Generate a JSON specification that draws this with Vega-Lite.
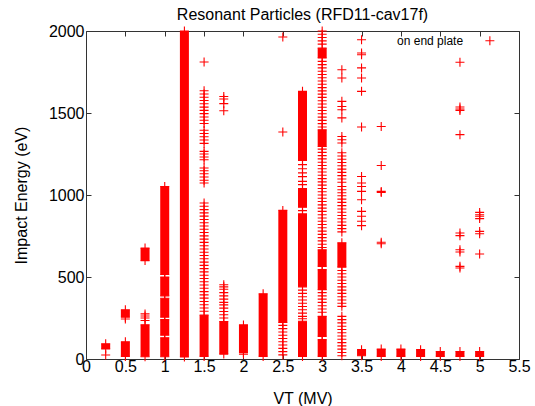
{
  "$schema": "https://vega.github.io/schema/vega-lite/v6.json",
  "width": 433,
  "height": 328,
  "autosize": "none",
  "padding": {"left": 86, "top": 31, "right": 16, "bottom": 47},
  "background": "white",
  "title": {"text": "Resonant Particles (RFD11-cav17f)", "font": "Liberation Sans", "fontSize": 16, "fontWeight": "normal", "color": "#000", "anchor": "middle", "offset": 0},
  "config": {
    "view": {"stroke": "#333", "strokeWidth": 1},
    "axis": {"domain": false, "grid": false, "ticks": true, "tickSize": -5, "tickColor": "#333", "labelFont": "Liberation Sans", "labelFontSize": 16, "labelColor": "#000", "titleFont": "Liberation Sans", "titleFontSize": 16, "titleFontWeight": "normal", "titleColor": "#000"}
  },
  "datasets": {
    "segments": [
      {"vt": 0.25, "lo": 61, "hi": 93},
      {"vt": 0.5, "lo": 16, "hi": 105},
      {"vt": 0.5, "lo": 255, "hi": 300},
      {"vt": 0.75, "lo": 14, "hi": 209},
      {"vt": 0.75, "lo": 600, "hi": 677},
      {"vt": 1.0, "lo": 14, "hi": 130},
      {"vt": 1.0, "lo": 145, "hi": 240},
      {"vt": 1.0, "lo": 255, "hi": 370},
      {"vt": 1.0, "lo": 385, "hi": 500},
      {"vt": 1.0, "lo": 515, "hi": 1052},
      {"vt": 1.25, "lo": 12, "hi": 2000},
      {"vt": 1.5, "lo": 16, "hi": 268},
      {"vt": 1.75, "lo": 30, "hi": 229},
      {"vt": 2.0, "lo": 40, "hi": 208},
      {"vt": 2.25, "lo": 16, "hi": 398},
      {"vt": 2.5, "lo": 223, "hi": 906},
      {"vt": 2.75, "lo": 16, "hi": 230},
      {"vt": 2.75, "lo": 440, "hi": 885},
      {"vt": 2.75, "lo": 925, "hi": 1040},
      {"vt": 2.75, "lo": 1210, "hi": 1632},
      {"vt": 3.0, "lo": 16, "hi": 118},
      {"vt": 3.0, "lo": 138, "hi": 260},
      {"vt": 3.0, "lo": 423, "hi": 545},
      {"vt": 3.0, "lo": 565, "hi": 666},
      {"vt": 3.0, "lo": 1296, "hi": 1398},
      {"vt": 3.0, "lo": 1835, "hi": 1896},
      {"vt": 3.25, "lo": 560, "hi": 709},
      {"vt": 3.5, "lo": 20, "hi": 57},
      {"vt": 3.75, "lo": 16, "hi": 61},
      {"vt": 4.0, "lo": 16, "hi": 61},
      {"vt": 4.25, "lo": 16, "hi": 57},
      {"vt": 4.5, "lo": 16, "hi": 46},
      {"vt": 4.75, "lo": 16, "hi": 46},
      {"vt": 5.0, "lo": 16, "hi": 46}
    ],
    "points": [
      {"vt": 0.25, "e": 24},
      {"vt": 0.5, "e": 244},
      {"vt": 0.75, "e": 235}, {"vt": 0.75, "e": 250}, {"vt": 0.75, "e": 262}, {"vt": 0.75, "e": 275},
      {"vt": 1.5, "e": 1811},
      {"vt": 1.5, "e": 1636}, {"vt": 1.5, "e": 1616}, {"vt": 1.5, "e": 1596}, {"vt": 1.5, "e": 1576}, {"vt": 1.5, "e": 1556}, {"vt": 1.5, "e": 1536}, {"vt": 1.5, "e": 1516}, {"vt": 1.5, "e": 1496}, {"vt": 1.5, "e": 1476}, {"vt": 1.5, "e": 1456}, {"vt": 1.5, "e": 1436},
      {"vt": 1.5, "e": 1395}, {"vt": 1.5, "e": 1375}, {"vt": 1.5, "e": 1355}, {"vt": 1.5, "e": 1335}, {"vt": 1.5, "e": 1315},
      {"vt": 1.5, "e": 1266}, {"vt": 1.5, "e": 1250}, {"vt": 1.5, "e": 1232}, {"vt": 1.5, "e": 1215},
      {"vt": 1.5, "e": 1165}, {"vt": 1.5, "e": 1148}, {"vt": 1.5, "e": 1130}, {"vt": 1.5, "e": 1110}, {"vt": 1.5, "e": 1090}, {"vt": 1.5, "e": 1073},
      {"vt": 1.5, "e": 951}, {"vt": 1.5, "e": 931}, {"vt": 1.5, "e": 911}, {"vt": 1.5, "e": 891}, {"vt": 1.5, "e": 871}, {"vt": 1.5, "e": 851}, {"vt": 1.5, "e": 831}, {"vt": 1.5, "e": 811}, {"vt": 1.5, "e": 791}, {"vt": 1.5, "e": 771}, {"vt": 1.5, "e": 751}, {"vt": 1.5, "e": 731}, {"vt": 1.5, "e": 711}, {"vt": 1.5, "e": 691}, {"vt": 1.5, "e": 671}, {"vt": 1.5, "e": 651}, {"vt": 1.5, "e": 631}, {"vt": 1.5, "e": 611}, {"vt": 1.5, "e": 591}, {"vt": 1.5, "e": 571}, {"vt": 1.5, "e": 551}, {"vt": 1.5, "e": 531}, {"vt": 1.5, "e": 511}, {"vt": 1.5, "e": 491}, {"vt": 1.5, "e": 471}, {"vt": 1.5, "e": 451}, {"vt": 1.5, "e": 431}, {"vt": 1.5, "e": 411}, {"vt": 1.5, "e": 391}, {"vt": 1.5, "e": 371}, {"vt": 1.5, "e": 351}, {"vt": 1.5, "e": 331}, {"vt": 1.5, "e": 311}, {"vt": 1.5, "e": 291},
      {"vt": 1.75, "e": 1601}, {"vt": 1.75, "e": 1585}, {"vt": 1.75, "e": 1557}, {"vt": 1.75, "e": 1514},
      {"vt": 1.75, "e": 453}, {"vt": 1.75, "e": 440}, {"vt": 1.75, "e": 425}, {"vt": 1.75, "e": 405}, {"vt": 1.75, "e": 385}, {"vt": 1.75, "e": 365}, {"vt": 1.75, "e": 345}, {"vt": 1.75, "e": 330}, {"vt": 1.75, "e": 310}, {"vt": 1.75, "e": 290}, {"vt": 1.75, "e": 270}, {"vt": 1.75, "e": 250},
      {"vt": 2.0, "e": 30},
      {"vt": 2.5, "e": 1963}, {"vt": 2.5, "e": 1384},
      {"vt": 2.5, "e": 205}, {"vt": 2.5, "e": 185}, {"vt": 2.5, "e": 165}, {"vt": 2.5, "e": 145}, {"vt": 2.5, "e": 125}, {"vt": 2.5, "e": 105}, {"vt": 2.5, "e": 85}, {"vt": 2.5, "e": 65}, {"vt": 2.5, "e": 45}, {"vt": 2.5, "e": 25},
      {"vt": 2.75, "e": 1185}, {"vt": 2.75, "e": 1160}, {"vt": 2.75, "e": 1135}, {"vt": 2.75, "e": 1112}, {"vt": 2.75, "e": 1083}, {"vt": 2.75, "e": 1063}, {"vt": 2.75, "e": 905},
      {"vt": 2.75, "e": 420}, {"vt": 2.75, "e": 400}, {"vt": 2.75, "e": 380}, {"vt": 2.75, "e": 360}, {"vt": 2.75, "e": 340}, {"vt": 2.75, "e": 320}, {"vt": 2.75, "e": 300}, {"vt": 2.75, "e": 280}, {"vt": 2.75, "e": 260}, {"vt": 2.75, "e": 245},
      {"vt": 3.0, "e": 2000}, {"vt": 3.0, "e": 1980}, {"vt": 3.0, "e": 1960}, {"vt": 3.0, "e": 1940}, {"vt": 3.0, "e": 1920},
      {"vt": 3.0, "e": 1815}, {"vt": 3.0, "e": 1795}, {"vt": 3.0, "e": 1775}, {"vt": 3.0, "e": 1755}, {"vt": 3.0, "e": 1735}, {"vt": 3.0, "e": 1715}, {"vt": 3.0, "e": 1695}, {"vt": 3.0, "e": 1675}, {"vt": 3.0, "e": 1655}, {"vt": 3.0, "e": 1635}, {"vt": 3.0, "e": 1615}, {"vt": 3.0, "e": 1595}, {"vt": 3.0, "e": 1575}, {"vt": 3.0, "e": 1555}, {"vt": 3.0, "e": 1535}, {"vt": 3.0, "e": 1515}, {"vt": 3.0, "e": 1495}, {"vt": 3.0, "e": 1475}, {"vt": 3.0, "e": 1455}, {"vt": 3.0, "e": 1435}, {"vt": 3.0, "e": 1415},
      {"vt": 3.0, "e": 1280}, {"vt": 3.0, "e": 1260}, {"vt": 3.0, "e": 1240}, {"vt": 3.0, "e": 1220}, {"vt": 3.0, "e": 1200}, {"vt": 3.0, "e": 1180}, {"vt": 3.0, "e": 1160}, {"vt": 3.0, "e": 1140}, {"vt": 3.0, "e": 1120}, {"vt": 3.0, "e": 1100}, {"vt": 3.0, "e": 1080}, {"vt": 3.0, "e": 1060}, {"vt": 3.0, "e": 1040}, {"vt": 3.0, "e": 1020}, {"vt": 3.0, "e": 1000}, {"vt": 3.0, "e": 980}, {"vt": 3.0, "e": 960}, {"vt": 3.0, "e": 940}, {"vt": 3.0, "e": 920}, {"vt": 3.0, "e": 900}, {"vt": 3.0, "e": 880}, {"vt": 3.0, "e": 860}, {"vt": 3.0, "e": 840}, {"vt": 3.0, "e": 820}, {"vt": 3.0, "e": 800}, {"vt": 3.0, "e": 780}, {"vt": 3.0, "e": 760}, {"vt": 3.0, "e": 740}, {"vt": 3.0, "e": 720}, {"vt": 3.0, "e": 700}, {"vt": 3.0, "e": 680},
      {"vt": 3.0, "e": 405}, {"vt": 3.0, "e": 385}, {"vt": 3.0, "e": 365}, {"vt": 3.0, "e": 345}, {"vt": 3.0, "e": 325}, {"vt": 3.0, "e": 305}, {"vt": 3.0, "e": 285},
      {"vt": 3.25, "e": 1764}, {"vt": 3.25, "e": 1713}, {"vt": 3.25, "e": 1571}, {"vt": 3.25, "e": 1540}, {"vt": 3.25, "e": 1520}, {"vt": 3.25, "e": 1470}, {"vt": 3.25, "e": 1357}, {"vt": 3.25, "e": 1337}, {"vt": 3.25, "e": 1317},
      {"vt": 3.25, "e": 1258}, {"vt": 3.25, "e": 1238}, {"vt": 3.25, "e": 1218}, {"vt": 3.25, "e": 1198}, {"vt": 3.25, "e": 1178}, {"vt": 3.25, "e": 1158}, {"vt": 3.25, "e": 1138}, {"vt": 3.25, "e": 1118}, {"vt": 3.25, "e": 1098}, {"vt": 3.25, "e": 1078}, {"vt": 3.25, "e": 1052}, {"vt": 3.25, "e": 1032}, {"vt": 3.25, "e": 1014},
      {"vt": 3.25, "e": 995}, {"vt": 3.25, "e": 975}, {"vt": 3.25, "e": 955}, {"vt": 3.25, "e": 935}, {"vt": 3.25, "e": 915}, {"vt": 3.25, "e": 895}, {"vt": 3.25, "e": 875}, {"vt": 3.25, "e": 855}, {"vt": 3.25, "e": 835}, {"vt": 3.25, "e": 815}, {"vt": 3.25, "e": 795}, {"vt": 3.25, "e": 775},
      {"vt": 3.25, "e": 540}, {"vt": 3.25, "e": 520}, {"vt": 3.25, "e": 500}, {"vt": 3.25, "e": 480}, {"vt": 3.25, "e": 460}, {"vt": 3.25, "e": 440}, {"vt": 3.25, "e": 420}, {"vt": 3.25, "e": 400}, {"vt": 3.25, "e": 380}, {"vt": 3.25, "e": 360}, {"vt": 3.25, "e": 340}, {"vt": 3.25, "e": 321},
      {"vt": 3.25, "e": 260}, {"vt": 3.25, "e": 240}, {"vt": 3.25, "e": 220}, {"vt": 3.25, "e": 200}, {"vt": 3.25, "e": 180}, {"vt": 3.25, "e": 160}, {"vt": 3.25, "e": 140}, {"vt": 3.25, "e": 120}, {"vt": 3.25, "e": 100}, {"vt": 3.25, "e": 80}, {"vt": 3.25, "e": 60}, {"vt": 3.25, "e": 40}, {"vt": 3.25, "e": 20},
      {"vt": 3.5, "e": 1947}, {"vt": 3.5, "e": 1866}, {"vt": 3.5, "e": 1855}, {"vt": 3.5, "e": 1775}, {"vt": 3.5, "e": 1713}, {"vt": 3.5, "e": 1632}, {"vt": 3.5, "e": 1415}, {"vt": 3.5, "e": 1113}, {"vt": 3.5, "e": 1073}, {"vt": 3.5, "e": 1052}, {"vt": 3.5, "e": 1022}, {"vt": 3.5, "e": 971}, {"vt": 3.5, "e": 900}, {"vt": 3.5, "e": 870}, {"vt": 3.5, "e": 840}, {"vt": 3.5, "e": 813},
      {"vt": 3.75, "e": 1418}, {"vt": 3.75, "e": 1180}, {"vt": 3.75, "e": 1022}, {"vt": 3.75, "e": 1016}, {"vt": 3.75, "e": 712}, {"vt": 3.75, "e": 703},
      {"vt": 4.75, "e": 1809}, {"vt": 4.75, "e": 1537}, {"vt": 4.75, "e": 1524}, {"vt": 4.75, "e": 1516}, {"vt": 4.75, "e": 1368}, {"vt": 4.75, "e": 768}, {"vt": 4.75, "e": 752}, {"vt": 4.75, "e": 666}, {"vt": 4.75, "e": 652}, {"vt": 4.75, "e": 565}, {"vt": 4.75, "e": 555},
      {"vt": 5.0, "e": 894}, {"vt": 5.0, "e": 880}, {"vt": 5.0, "e": 870}, {"vt": 5.0, "e": 856}, {"vt": 5.0, "e": 778}, {"vt": 5.0, "e": 764}, {"vt": 5.0, "e": 640}
    ],
    "key": [{"label": "on end plate"}]
  },
  "layer": [
    {
      "data": {"name": "segments"},
      "mark": {"type": "rule", "color": "#ff0000", "strokeWidth": 9, "strokeCap": "butt"},
      "encoding": {
        "x": {"field": "vt", "type": "quantitative", "scale": {"domain": [0, 5.5], "nice": false, "zero": false},
              "axis": {"orient": "bottom", "title": "VT (MV)", "values": [0, 0.5, 1, 1.5, 2, 2.5, 3, 3.5, 4, 4.5, 5, 5.5], "format": "~g", "labelPadding": 4, "titlePadding": 16, "labelFlush": false}},
        "y": {"field": "lo", "type": "quantitative", "scale": {"domain": [0, 2000], "nice": false},
              "axis": {"orient": "left", "title": "Impact Energy (eV)", "values": [0, 500, 1000, 1500, 2000], "format": "d", "labelPadding": 7, "titlePadding": 19}},
        "y2": {"field": "hi"}
      }
    },
    {
      "data": {"name": "points"},
      "mark": {"type": "point", "shape": "M-1,0H1M0,-1V1", "size": 81, "filled": false, "stroke": "#ff0000", "strokeWidth": 1.1, "opacity": 1},
      "encoding": {
        "x": {"field": "vt", "type": "quantitative", "axis": {"orient": "top", "labels": false, "title": null, "values": [0, 0.5, 1, 1.5, 2, 2.5, 3, 3.5, 4, 4.5, 5, 5.5]}},
        "y": {"field": "e", "type": "quantitative", "axis": {"orient": "right", "labels": false, "title": null, "values": [0, 500, 1000, 1500, 2000]}}
      }
    },
    {
      "data": {"name": "segments"},
      "mark": {"type": "point", "shape": "M-1,0H1M0,-1V1", "size": 81, "filled": false, "stroke": "#ff0000", "strokeWidth": 1.1, "opacity": 1},
      "encoding": {
        "x": {"field": "vt", "type": "quantitative", "axis": null},
        "y": {"field": "lo", "type": "quantitative", "axis": null}
      }
    },
    {
      "data": {"name": "segments"},
      "mark": {"type": "point", "shape": "M-1,0H1M0,-1V1", "size": 81, "filled": false, "stroke": "#ff0000", "strokeWidth": 1.1, "opacity": 1},
      "encoding": {
        "x": {"field": "vt", "type": "quantitative", "axis": null},
        "y": {"field": "hi", "type": "quantitative", "axis": null}
      }
    },
    {
      "data": {"name": "key"},
      "mark": {"type": "text", "align": "right", "baseline": "middle", "font": "Liberation Sans", "fontSize": 12, "color": "#000"},
      "encoding": {
        "x": {"datum": 4.79, "type": "quantitative", "axis": null},
        "y": {"datum": 1941, "type": "quantitative", "axis": null},
        "text": {"field": "label"}
      }
    },
    {
      "data": {"name": "key"},
      "mark": {"type": "point", "shape": "M-1,0H1M0,-1V1", "size": 81, "filled": false, "stroke": "#ff0000", "strokeWidth": 1.1, "opacity": 1},
      "encoding": {
        "x": {"datum": 5.13, "type": "quantitative", "axis": null},
        "y": {"datum": 1941, "type": "quantitative", "axis": null}
      }
    }
  ],
  "resolve": {"axis": {"x": "independent", "y": "independent"}}
}
